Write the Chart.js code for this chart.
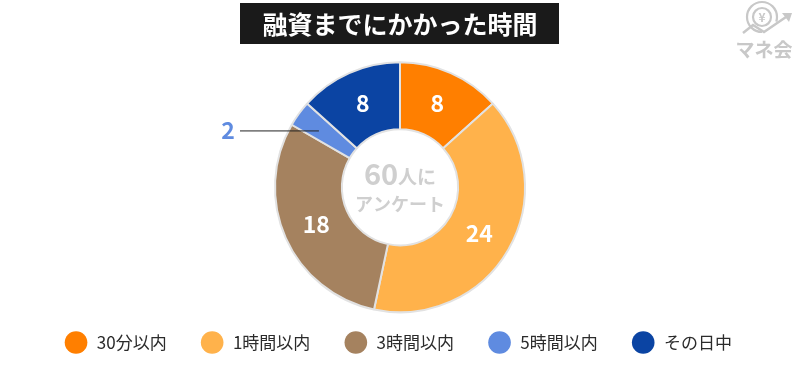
<!DOCTYPE html>
<html>
<head>
<meta charset="utf-8">
<script src="https://cdn.jsdelivr.net/npm/chart.js@4/dist/chart.umd.min.js"></script>
<style>
  html, body { margin:0; padding:0; background:#fff; }
  #wrap { width:800px; height:390px; position:relative; }
</style>
</head>
<body>
<div id="wrap"><canvas id="chart" width="800" height="390"></canvas></div>
<script>
// chart data
const titleText = '融資までにかかった時間';
const categories = ['30分以内', '1時間以内', '3時間以内', '5時間以内', 'その日中'];
const counts = [8, 24, 18, 2, 8];
const sliceColors = ['#ff7f00', '#ffb24b', '#a5825f', '#5f8be0', '#0b44a3'];
const centerLine1 = ['60', '人に'];
const centerLine2 = 'アンケート';

const FONT = '"Noto Sans CJK JP", "Noto Sans", sans-serif';
Chart.defaults.font.family = FONT;

// title in black box + logo
const titlePlugin = {
  id: 'titleBox',
  afterDraw(chart){
    const c = chart.ctx;
    c.save();
    c.fillStyle = '#1a1a1a';
    c.fillRect(240, 3, 319, 41);
    c.fillStyle = '#fff';
    c.font = 'bold 25px ' + FONT;
    c.textAlign = 'center';
    c.textBaseline = 'middle';
    c.fillText(titleText, 400, 24);

    // logo (approximate)
    c.strokeStyle = '#c8c8c8';
    c.fillStyle = '#c8c8c8';
    c.lineWidth = 2.2;
    c.beginPath();
    c.arc(762, 17, 15, Math.PI * 0.5, Math.PI * 2.1);
    c.stroke();
    c.beginPath();
    c.arc(762, 17, 9, 0, Math.PI * 2);
    c.stroke();
    c.font = 'bold 12px ' + FONT;
    c.fillText('¥', 762, 17);
    c.lineWidth = 2.5;
    c.beginPath();
    c.moveTo(743, 33); c.lineTo(753, 25); c.lineTo(764, 32); c.lineTo(786, 17);
    c.stroke();
    c.beginPath();
    c.moveTo(792, 13); c.lineTo(782, 13); c.lineTo(789, 22); c.closePath();
    c.fill();
    c.font = 'bold 19px ' + FONT;
    c.fillText('マネ会', 764, 50);
    c.restore();
  }
};

// values on slices + centre text
const labelPlugin = {
  id: 'sliceLabels',
  afterDatasetsDraw(chart){
    const c = chart.ctx;
    const meta = chart.getDatasetMeta(0);
    c.save();
    c.textAlign = 'center';
    c.textBaseline = 'middle';
    meta.data.forEach((arc, i) => {
      const p = arc.getCenterPoint();
      c.font = 'bold 23px ' + FONT;
      if(counts[i] < 4){
        // small slice: label outside with leader line
        c.strokeStyle = '#222';
        c.lineWidth = 1;
        c.beginPath();
        c.moveTo(240, p.y - 2.5);
        c.lineTo(p.x - 7, p.y - 2.5);
        c.stroke();
        c.fillStyle = sliceColors[i];
        c.fillText(String(counts[i]), 228, p.y - 3);
      } else {
        c.fillStyle = '#fff';
        c.fillText(String(counts[i]), p.x, p.y);
      }
    });

    const cx = meta.data[0].x, cy = meta.data[0].y;
    c.fillStyle = '#cfcfcf';
    c.textBaseline = 'alphabetic';
    c.font = 'bold 29px ' + FONT;
    const w1 = c.measureText(centerLine1[0]).width;
    c.font = 'bold 19px ' + FONT;
    const w2 = c.measureText(centerLine1[1]).width;
    const x0 = cx - (w1 + w2) / 2;
    c.textAlign = 'left';
    c.font = 'bold 29px ' + FONT;
    c.fillText(centerLine1[0], x0, cy - 2);
    c.font = 'bold 19px ' + FONT;
    c.fillText(centerLine1[1], x0 + w1, cy - 3);
    c.textAlign = 'center';
    c.font = 'bold 18px ' + FONT;
    c.fillText(centerLine2, cx, cy + 24);
    c.restore();
  }
};

const ctx = document.getElementById('chart').getContext('2d');
const chart = new Chart(ctx, {
  type: 'doughnut',
  data: {
    labels: categories,
    datasets: [{
      data: counts,
      backgroundColor: sliceColors,
      borderColor: '#e2e2e2',
      borderWidth: 2,
      hoverOffset: 0,
      radius: 125,
      cutout: '46.5%'
    }]
  },
  options: {
    responsive: false,
    animation: false,
    events: [],
    layout: { padding: { top: 78, bottom: 29 } },
    plugins: {
      title: { display: false },
      tooltip: { enabled: false },
      legend: {
        position: 'bottom',
        labels: {
          usePointStyle: true,
          pointStyle: 'circle',
          boxWidth: 16,
          boxHeight: 16,
          padding: 37.5,
          color: '#2b2b2b',
          font: { family: FONT, size: 17 },
          generateLabels(chart){
            const items = Chart.overrides.doughnut.plugins.legend.labels.generateLabels(chart);
            items.forEach(it => {
              it.text = '\u2005' + it.text;
              it.lineWidth = 0;
              it.strokeStyle = it.fillStyle;
            });
            return items;
          }
        }
      }
    }
  },
  plugins: [titlePlugin, labelPlugin]
});
</script>
</body>
</html>
